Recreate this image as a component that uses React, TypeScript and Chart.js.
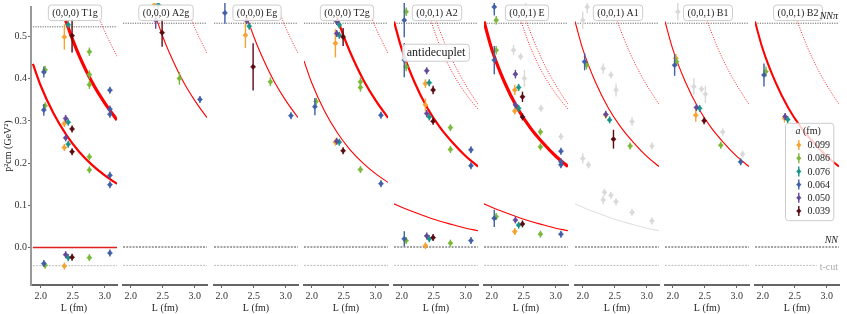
import React, { useEffect, useRef } from 'react';
import { Chart, registerables } from 'chart.js';
Chart.register(...registerables);

// ---------------- data ----------------
const ENSEMBLE_LABELS = ['0.099', '0.086', '0.076', '0.064', '0.050', '0.039'];
const ENSEMBLE_COLORS = ['#f7a12e', '#7ab837', '#17958a', '#3f5fa8', '#63489b', '#5a0b10'];
const GHOST_COLOR = '#d9d9d9';

const PANEL_TITLES = [
  '(0,0,0) T1g', '(0,0,0) A2g', '(0,0,0) Eg', '(0,0,0) T2g',
  '(0,0,1) A2', '(0,0,1) E', '(0,0,1) A1', '(0,0,1) B1', '(0,0,1) B2',
];

const X_TICKS = [2.0, 2.5, 3.0];
const Y_TICKS = [0.0, 0.1, 0.2, 0.3, 0.4, 0.5];
const L_MIN = 1.88;
const L_MAX = 3.19;
const Y_MIN = -0.0888;
const Y_MAX = 0.57;

const E_NNPI = 0.523;
const E_NN = 0.0;
const E_TCUT = -0.043;

// non-interacting levels, [L, p2]
const CURVE_REST_N0 = [[1.88, 0.0], [3.19, 0.0]];
const CURVE_REST_N1 = [[1.88, 0.435], [2.0, 0.384], [2.2, 0.318], [2.4, 0.267], [2.6, 0.227], [2.8, 0.196], [3.0, 0.171], [3.19, 0.151]];
const CURVE_REST_N2 = [[2.39, 0.538], [2.5, 0.492], [2.6, 0.455], [2.8, 0.392], [3.0, 0.342], [3.19, 0.302]];
const CURVE_REST_N3 = [[2.92, 0.541], [3.0, 0.512], [3.1, 0.48], [3.19, 0.453]];
const CURVE_MOV_0 = [[1.88, 0.101], [2.0, 0.093], [2.2, 0.081], [2.4, 0.07], [2.6, 0.06], [2.8, 0.052], [3.0, 0.044], [3.19, 0.038]];
const CURVE_MOV_1 = [[1.88, 0.527], [2.0, 0.463], [2.2, 0.385], [2.4, 0.325], [2.6, 0.279], [2.8, 0.243], [3.0, 0.212], [3.19, 0.188]];
const CURVE_MOV_2A = [[2.44, 0.535], [2.6, 0.468], [2.8, 0.405], [3.0, 0.358], [3.19, 0.322]];
const CURVE_MOV_2B = [[2.52, 0.535], [2.7, 0.466], [2.9, 0.404], [3.1, 0.354], [3.19, 0.334]];

// points: [ensemble (0..5, 6 = other irrep), L, p2, error]
const T1G_POINTS = [
  [0, 2.37, 0.499, 0.03], [2, 2.43, 0.528, 0.006], [5, 2.49, 0.502, 0.04],
  [1, 2.76, 0.464, 0.01], [1, 2.76, 0.41, 0.01], [1, 2.76, 0.386, 0.01],
  [3, 3.08, 0.373, 0.004], [3, 3.08, 0.328, 0.004], [3, 3.08, 0.316, 0.004],
  [3, 2.05, 0.416, 0.013], [1, 2.07, 0.421, 0.01], [3, 2.05, 0.326, 0.014], [1, 2.07, 0.336, 0.007],
  [4, 2.39, 0.306, 0.006], [0, 2.37, 0.294, 0.007], [2, 2.43, 0.297, 0.003], [5, 2.49, 0.281, 0.006],
  [4, 2.39, 0.26, 0.006], [0, 2.37, 0.237, 0.007], [2, 2.43, 0.245, 0.003], [5, 2.49, 0.227, 0.005],
  [1, 2.76, 0.215, 0.003], [1, 2.76, 0.184, 0.003], [3, 3.08, 0.171, 0.003], [3, 3.08, 0.149, 0.003],
  [3, 2.05, -0.038, 0.006], [1, 2.07, -0.042, 0.004], [0, 2.37, -0.044, 0.002], [4, 2.39, -0.017, 0.003],
  [2, 2.43, -0.024, 0.002], [5, 2.49, -0.023, 0.003], [1, 2.76, -0.024, 0.002], [3, 3.08, -0.013, 0.002],
];
const A2G_POINTS = [
  [0, 2.37, 0.566, 0.01], [2, 2.43, 0.566, 0.01],
  [4, 2.39, 0.53, 0.02], [5, 2.49, 0.501, 0.033], [1, 2.76, 0.394, 0.015], [3, 3.08, 0.345, 0.008],
];
const EG_POINTS = [
  [3, 2.05, 0.547, 0.025], [4, 2.39, 0.529, 0.006], [0, 2.37, 0.495, 0.03], [2, 2.43, 0.516, 0.006],
  [5, 2.49, 0.421, 0.055], [1, 2.76, 0.386, 0.01], [3, 3.08, 0.307, 0.004],
];
const T2G_POINTS = [
  [3, 2.05, 0.328, 0.02], [1, 2.07, 0.34, 0.008],
  [4, 2.39, 0.527, 0.006], [0, 2.37, 0.476, 0.033], [4, 2.39, 0.499, 0.006], [2, 2.43, 0.519, 0.004],
  [2, 2.43, 0.495, 0.004], [5, 2.49, 0.491, 0.021], [1, 2.76, 0.386, 0.01], [1, 2.76, 0.373, 0.01],
  [3, 3.08, 0.308, 0.004], [0, 2.37, 0.245, 0.004], [2, 2.43, 0.245, 0.003], [4, 2.39, 0.247, 0.004],
  [5, 2.49, 0.225, 0.006], [1, 2.76, 0.181, 0.003], [3, 3.08, 0.148, 0.003],
];
const A2_POINTS = [
  [3, 2.04, 0.53, 0.04], [1, 2.07, 0.55, 0.01], [3, 2.04, 0.437, 0.04], [1, 2.07, 0.421, 0.01],
  [4, 2.39, 0.412, 0.008], [0, 2.37, 0.382, 0.01], [2, 2.43, 0.384, 0.006], [5, 2.49, 0.367, 0.01],
  [0, 2.37, 0.332, 0.015], [4, 2.39, 0.312, 0.008], [2, 2.43, 0.304, 0.004], [5, 2.49, 0.294, 0.006],
  [1, 2.76, 0.279, 0.005], [1, 2.76, 0.228, 0.005], [3, 3.08, 0.227, 0.003], [3, 3.08, 0.19, 0.003],
  [3, 2.04, 0.019, 0.018], [1, 2.07, 0.015, 0.008], [4, 2.39, 0.026, 0.003], [0, 2.37, 0.003, 0.003],
  [2, 2.43, 0.019, 0.004], [5, 2.49, 0.022, 0.004], [1, 2.76, 0.009, 0.003], [3, 3.08, 0.015, 0.003],
];
const E_POINTS = [
  [6, 2.53, 0.56, 0.015], [6, 2.34, 0.46, 0.012], [6, 2.45, 0.445, 0.005], [6, 2.51, 0.394, 0.02],
  [6, 2.77, 0.324, 0.006], [6, 3.08, 0.258, 0.004],
  [3, 2.04, 0.561, 0.02], [1, 2.07, 0.53, 0.01], [1, 2.07, 0.46, 0.01], [3, 2.04, 0.437, 0.033],
  [4, 2.37, 0.404, 0.01], [0, 2.36, 0.367, 0.012], [2, 2.42, 0.373, 0.008], [5, 2.48, 0.351, 0.012],
  [4, 2.37, 0.332, 0.005], [0, 2.36, 0.318, 0.006], [2, 2.42, 0.324, 0.004], [5, 2.48, 0.304, 0.006],
  [1, 2.76, 0.269, 0.005], [1, 2.76, 0.234, 0.004], [3, 3.08, 0.224, 0.003], [3, 3.08, 0.199, 0.003],
  [3, 3.08, 0.192, 0.003], [3, 2.04, 0.067, 0.02], [1, 2.07, 0.071, 0.006], [4, 2.37, 0.063, 0.003],
  [2, 2.42, 0.051, 0.003], [5, 2.48, 0.054, 0.003], [0, 2.36, 0.036, 0.004], [1, 2.76, 0.03, 0.002],
  [3, 3.08, 0.03, 0.002],
];
const A1_POINTS = [
  [6, 2.0, 0.53, 0.02], [6, 2.07, 0.561, 0.015], [6, 2.32, 0.417, 0.012], [6, 2.44, 0.402, 0.004],
  [6, 2.52, 0.367, 0.015], [6, 2.77, 0.293, 0.01], [6, 3.08, 0.236, 0.004], [6, 2.0, 0.207, 0.012],
  [6, 2.09, 0.192, 0.004], [6, 2.32, 0.11, 0.01], [6, 2.34, 0.128, 0.004], [6, 2.44, 0.121, 0.003],
  [6, 2.52, 0.106, 0.004], [6, 2.77, 0.081, 0.003], [6, 3.08, 0.061, 0.003],
  [3, 2.03, 0.433, 0.02], [1, 2.06, 0.425, 0.01], [4, 2.36, 0.31, 0.006], [0, 2.36, 0.308, 0.008],
  [2, 2.42, 0.297, 0.004], [5, 2.48, 0.252, 0.022], [1, 2.74, 0.236, 0.004],
];
const B1_POINTS = [
  [6, 2.08, 0.55, 0.02], [6, 2.33, 0.375, 0.02], [6, 2.45, 0.369, 0.005], [6, 2.51, 0.357, 0.02],
  [6, 2.78, 0.269, 0.006], [6, 3.09, 0.217, 0.004],
  [3, 2.03, 0.425, 0.025], [0, 2.05, 0.441, 0.01], [1, 2.06, 0.433, 0.01], [4, 2.37, 0.326, 0.005],
  [2, 2.42, 0.324, 0.004], [0, 2.36, 0.308, 0.015], [5, 2.49, 0.295, 0.008], [1, 2.75, 0.238, 0.004],
  [3, 3.06, 0.199, 0.003],
];
const B2_POINTS = [
  [6, 2.47, 0.27, 0.02], [6, 2.73, 0.223, 0.005], [6, 3.04, 0.188, 0.005],
  [3, 2.02, 0.402, 0.027], [1, 2.05, 0.41, 0.012], [0, 2.34, 0.301, 0.01], [4, 2.35, 0.305, 0.005],
  [2, 2.39, 0.298, 0.004],
];

// ---------------- panel configuration ----------------
type CurveUse = { pts: number[][]; style: string };
const PANELS: { points: number[][]; curves: CurveUse[] }[] = [
  { points: T1G_POINTS, curves: [
    { pts: CURVE_REST_N0, style: 'zero' }, { pts: CURVE_REST_N1, style: 'thick' },
    { pts: CURVE_REST_N2, style: 'thicker' }, { pts: CURVE_REST_N3, style: 'dotted' }] },
  { points: A2G_POINTS, curves: [{ pts: CURVE_REST_N2, style: 'thin' }, { pts: CURVE_REST_N3, style: 'dotted' }] },
  { points: EG_POINTS, curves: [{ pts: CURVE_REST_N2, style: 'thin' }, { pts: CURVE_REST_N3, style: 'dotted' }] },
  { points: T2G_POINTS, curves: [
    { pts: CURVE_REST_N1, style: 'thin' }, { pts: CURVE_REST_N2, style: 'thick' }, { pts: CURVE_REST_N3, style: 'dotted' }] },
  { points: A2_POINTS, curves: [
    { pts: CURVE_MOV_1, style: 'thick' }, { pts: CURVE_MOV_0, style: 'thin' },
    { pts: CURVE_MOV_2A, style: 'dotted' }, { pts: CURVE_MOV_2B, style: 'dotted' }] },
  { points: E_POINTS, curves: [
    { pts: CURVE_MOV_1, style: 'thicker' }, { pts: CURVE_MOV_0, style: 'thin' },
    { pts: CURVE_MOV_2A, style: 'dotted' }, { pts: CURVE_MOV_2B, style: 'dotted' }] },
  { points: A1_POINTS, curves: [
    { pts: CURVE_MOV_1, style: 'thin' }, { pts: CURVE_MOV_0, style: 'ghost' }, { pts: CURVE_MOV_2B, style: 'dotted' }] },
  { points: B1_POINTS, curves: [{ pts: CURVE_MOV_1, style: 'thin' }, { pts: CURVE_MOV_2B, style: 'dotted' }] },
  { points: B2_POINTS, curves: [{ pts: CURVE_MOV_1, style: 'thickm' }, { pts: CURVE_MOV_2B, style: 'dotted' }] },
];

const CURVE_STYLES: Record<string, any> = {
  zero: { borderColor: '#e02020', borderWidth: 1.6 },
  thin: { borderColor: '#ff0000', borderWidth: 1.1 },
  thick: { borderColor: '#ff0000', borderWidth: 2.2 },
  thickm: { borderColor: '#ff0000', borderWidth: 2.0 },
  thicker: { borderColor: '#ff0000', borderWidth: 3.2 },
  dotted: { borderColor: 'rgba(255,0,0,0.85)', borderWidth: 1, borderDash: [1, 1.5] },
  ghost: { borderColor: '#e2e2e2', borderWidth: 1.1 },
};

const FONT = '"Liberation Serif", "DejaVu Serif", serif';
const H = 314;

// ---------------- plugins ----------------
const errorBarPlugin = {
  id: 'errbars',
  beforeDatasetDraw(chart: any, args: any) {
    const ds: any = chart.data.datasets[args.index];
    if (!ds.errs) return;
    const { ctx, chartArea } = chart;
    const ys = chart.scales.y;
    ctx.save();
    ctx.beginPath();
    ctx.rect(chartArea.left, chartArea.top, chartArea.right - chartArea.left, chartArea.bottom - chartArea.top);
    ctx.clip();
    ctx.strokeStyle = ds.borderColor;
    ctx.lineWidth = 1.4;
    args.meta.data.forEach((el: any, i: number) => {
      const p = ds.data[i];
      const e = ds.errs[i];
      let y1 = ys.getPixelForValue(p.y + e);
      let y2 = ys.getPixelForValue(p.y - e);
      if (y2 - y1 < 7) { const c = (y1 + y2) / 2; y1 = c - 3.5; y2 = c + 3.5; }
      ctx.beginPath();
      ctx.moveTo(el.x, y1);
      ctx.lineTo(el.x, y2);
      ctx.stroke();
    });
    ctx.restore();
  },
};

function roundRect(ctx: CanvasRenderingContext2D, x: number, y: number, w: number, h: number, r: number) {
  ctx.beginPath();
  ctx.moveTo(x + r, y);
  ctx.lineTo(x + w - r, y);
  ctx.arcTo(x + w, y, x + w, y + r, r);
  ctx.lineTo(x + w, y + h - r);
  ctx.arcTo(x + w, y + h, x + w - r, y + h, r);
  ctx.lineTo(x + r, y + h);
  ctx.arcTo(x, y + h, x, y + h - r, r);
  ctx.lineTo(x, y + r);
  ctx.arcTo(x, y, x + r, y, r);
  ctx.closePath();
}

function labelBox(ctx: CanvasRenderingContext2D, text: string, cx: number, cy: number, size: number, padX: number, h: number) {
  ctx.font = `${size}px ${FONT}`;
  const w = ctx.measureText(text).width + padX * 2;
  roundRect(ctx, cx - w / 2, cy - h / 2, w, h, 3);
  ctx.fillStyle = 'rgba(255,255,255,0.85)';
  ctx.fill();
  ctx.strokeStyle = '#cccccc';
  ctx.lineWidth = 1;
  ctx.stroke();
  ctx.fillStyle = '#222';
  ctx.textAlign = 'center';
  ctx.textBaseline = 'middle';
  ctx.fillText(text, cx, cy + 0.5);
}

function makeAnnotPlugin(index: number) {
  return {
    id: 'annot',
    afterDraw(chart: any) {
      const { ctx, chartArea } = chart;
      const xs = chart.scales.x;
      const ys = chart.scales.y;
      ctx.save();
      labelBox(ctx, PANEL_TITLES[index], (chartArea.left + chartArea.right) / 2 + 1, 12.8, 10, 4, 15.5);
      if (index === 4) {
        labelBox(ctx, 'antidecuplet', xs.getPixelForValue(2.536), ys.getPixelForValue(0.454), 12, 4, 17);
      }
      if (index === PANEL_TITLES.length - 1) {
        const R = chartArea.right - 1;
        ctx.textAlign = 'right';
        ctx.textBaseline = 'middle';
        ctx.fillStyle = '#222';
        ctx.font = `italic 10px ${FONT}`;
        ctx.fillText('NNπ', R, ys.getPixelForValue(E_NNPI) - 6.5);
        ctx.fillText('NN', R, ys.getPixelForValue(E_NN) - 6.5);
        ctx.font = `10px ${FONT}`;
        const tw = ctx.measureText('t-cut').width;
        const ty = ys.getPixelForValue(E_TCUT) + 1.5;
        ctx.fillStyle = '#ffffff';
        ctx.fillRect(R - tw - 3, ty - 5, tw + 4, 10);
        ctx.fillStyle = '#aaaaaa';
        ctx.fillText('t-cut', R, ty);

        // legend
        const bx = chartArea.left + 30.5;
        const by = 123.3;
        const bw = 48.3;
        const bh = 97.4;
        roundRect(ctx, bx, by, bw, bh, 3);
        ctx.fillStyle = 'rgba(255,255,255,0.8)';
        ctx.fill();
        ctx.strokeStyle = '#cccccc';
        ctx.lineWidth = 1;
        ctx.stroke();
        ctx.textAlign = 'left';
        ctx.fillStyle = '#222';
        ctx.font = `italic 10px ${FONT}`;
        const ax = bx + 10;
        ctx.fillText('a', ax, by + 8.5);
        const aw = ctx.measureText('a').width;
        ctx.font = `10px ${FONT}`;
        ctx.fillText(' (fm)', ax + aw, by + 8.5);
        ENSEMBLE_LABELS.forEach((lab, i) => {
          const yy = by + 21.7 + i * 13.2;
          const mx = bx + 13.3;
          ctx.strokeStyle = ENSEMBLE_COLORS[i];
          ctx.lineWidth = 1.4;
          ctx.beginPath();
          ctx.moveTo(mx, yy - 5);
          ctx.lineTo(mx, yy + 5);
          ctx.stroke();
          ctx.fillStyle = ENSEMBLE_COLORS[i];
          ctx.beginPath();
          ctx.moveTo(mx, yy - 2.6);
          ctx.lineTo(mx + 2.6, yy);
          ctx.lineTo(mx, yy + 2.6);
          ctx.lineTo(mx - 2.6, yy);
          ctx.closePath();
          ctx.fill();
          ctx.fillStyle = '#222';
          ctx.fillText(lab, bx + 22, yy + 0.5);
        });
      }
      ctx.restore();
    },
  };
}

// ---------------- components ----------------
function Panel({ index }: { index: number }) {
  const ref = useRef<HTMLCanvasElement>(null);
  const first = index === 0;
  const chartLeft = first ? 31 : Math.round(33 + 90.25 * index);
  const chartRight = first ? 117 : chartLeft + 84;
  const canvasLeft = first ? 0 : chartLeft - 4;
  const canvasW = chartRight + 4 - canvasLeft;

  useEffect(() => {
    const cfg = PANELS[index];
    const layers: any[] = [];
    const refLine = (v: number, color: string, dash: number[], w: number) => ({
      data: [{ x: L_MIN, y: v }, { x: L_MAX, y: v }],
      showLine: true, pointRadius: 0, borderColor: color, borderWidth: w, borderDash: dash, fill: false,
    });
    layers.push(refLine(E_TCUT, '#aaaaaa', [2, 1.2], 0.8));
    layers.push(refLine(E_NN, '#333333', [2, 1.2], 0.9));
    layers.push(refLine(E_NNPI, '#666666', [1.2, 1.2], 1));
    cfg.curves.forEach((c) => {
      layers.push({
        data: c.pts.map(([x, y]) => ({ x, y })),
        showLine: true, pointRadius: 0, fill: false, cubicInterpolationMode: 'monotone',
        ...CURVE_STYLES[c.style],
      });
    });
    [6, 0, 1, 2, 3, 4, 5].forEach((ens) => {
      const pts = cfg.points.filter((p) => p[0] === ens);
      if (!pts.length) return;
      const color = ens === 6 ? GHOST_COLOR : ENSEMBLE_COLORS[ens];
      layers.push({
        data: pts.map((p) => ({ x: p[1], y: p[2] })),
        errs: pts.map((p) => p[3]),
        showLine: false, pointStyle: 'rectRot', pointRadius: 2.6, pointHoverRadius: 2.6,
        backgroundColor: color, borderColor: color, pointBorderWidth: 0.5,
      });
    });
    const datasets = layers.reverse();

    const yScale: any = {
      type: 'linear', display: first,
      min: Y_MIN, max: Y_MAX,
      afterBuildTicks: (s: any) => { s.ticks = Y_TICKS.map((v) => ({ value: v })); },
      ticks: { callback: (v: any) => Number(v).toFixed(1), font: { family: FONT, size: 10 }, color: '#333', padding: 1 },
      grid: { drawOnChartArea: false, drawTicks: true, tickLength: 3, color: '#666' },
      border: { display: true, color: '#999999', width: 2 },
      title: { display: true, text: 'p²cm (GeV²)', font: { family: FONT, size: 10 }, color: '#222', padding: { top: 2, bottom: 0 } },
    };
    if (first) yScale.afterFit = (s: any) => { s.width = 31; };

    const chart = new Chart(ref.current as HTMLCanvasElement, {
      type: 'scatter',
      data: { datasets },
      options: {
        animation: false,
        responsive: false,
        events: [],
        layout: { padding: { left: first ? 0 : 4, right: 4, top: 3, bottom: 0 } },
        plugins: { legend: { display: false }, tooltip: { enabled: false } },
        scales: {
          x: {
            type: 'linear', position: 'bottom',
            min: first ? 1.85 : L_MIN, max: L_MAX,
            afterBuildTicks: (s: any) => { s.ticks = X_TICKS.map((v) => ({ value: v })); },
            afterFit: (s: any) => { s.height = 29; },
            ticks: {
              callback: (v: any) => Number(v).toFixed(1), font: { family: FONT, size: 10 }, color: '#333',
              padding: 2, maxRotation: 0, autoSkip: false,
            },
            grid: { drawOnChartArea: false, drawTicks: true, tickLength: 3, color: '#666' },
            border: { display: true, color: '#666666', width: 2 },
            title: { display: true, text: 'L (fm)', font: { family: FONT, size: 10 }, color: '#222', padding: 0 },
          },
          y: yScale,
        },
      } as any,
      plugins: [errorBarPlugin as any, makeAnnotPlugin(index) as any],
    });
    return () => chart.destroy();
  }, [index]);

  return (
    <canvas
      ref={ref}
      width={canvasW}
      height={H}
      style={{ position: 'absolute', left: canvasLeft, top: 0, width: canvasW, height: H }}
    />
  );
}

export default function App() {
  useEffect(() => {
    document.body.style.margin = '0';
  }, []);
  return (
    <div style={{ position: 'relative', width: 847, height: H, background: '#fff', overflow: 'hidden' }}>
      {PANEL_TITLES.map((_, i) => (
        <Panel key={i} index={i} />
      ))}
    </div>
  );
}
